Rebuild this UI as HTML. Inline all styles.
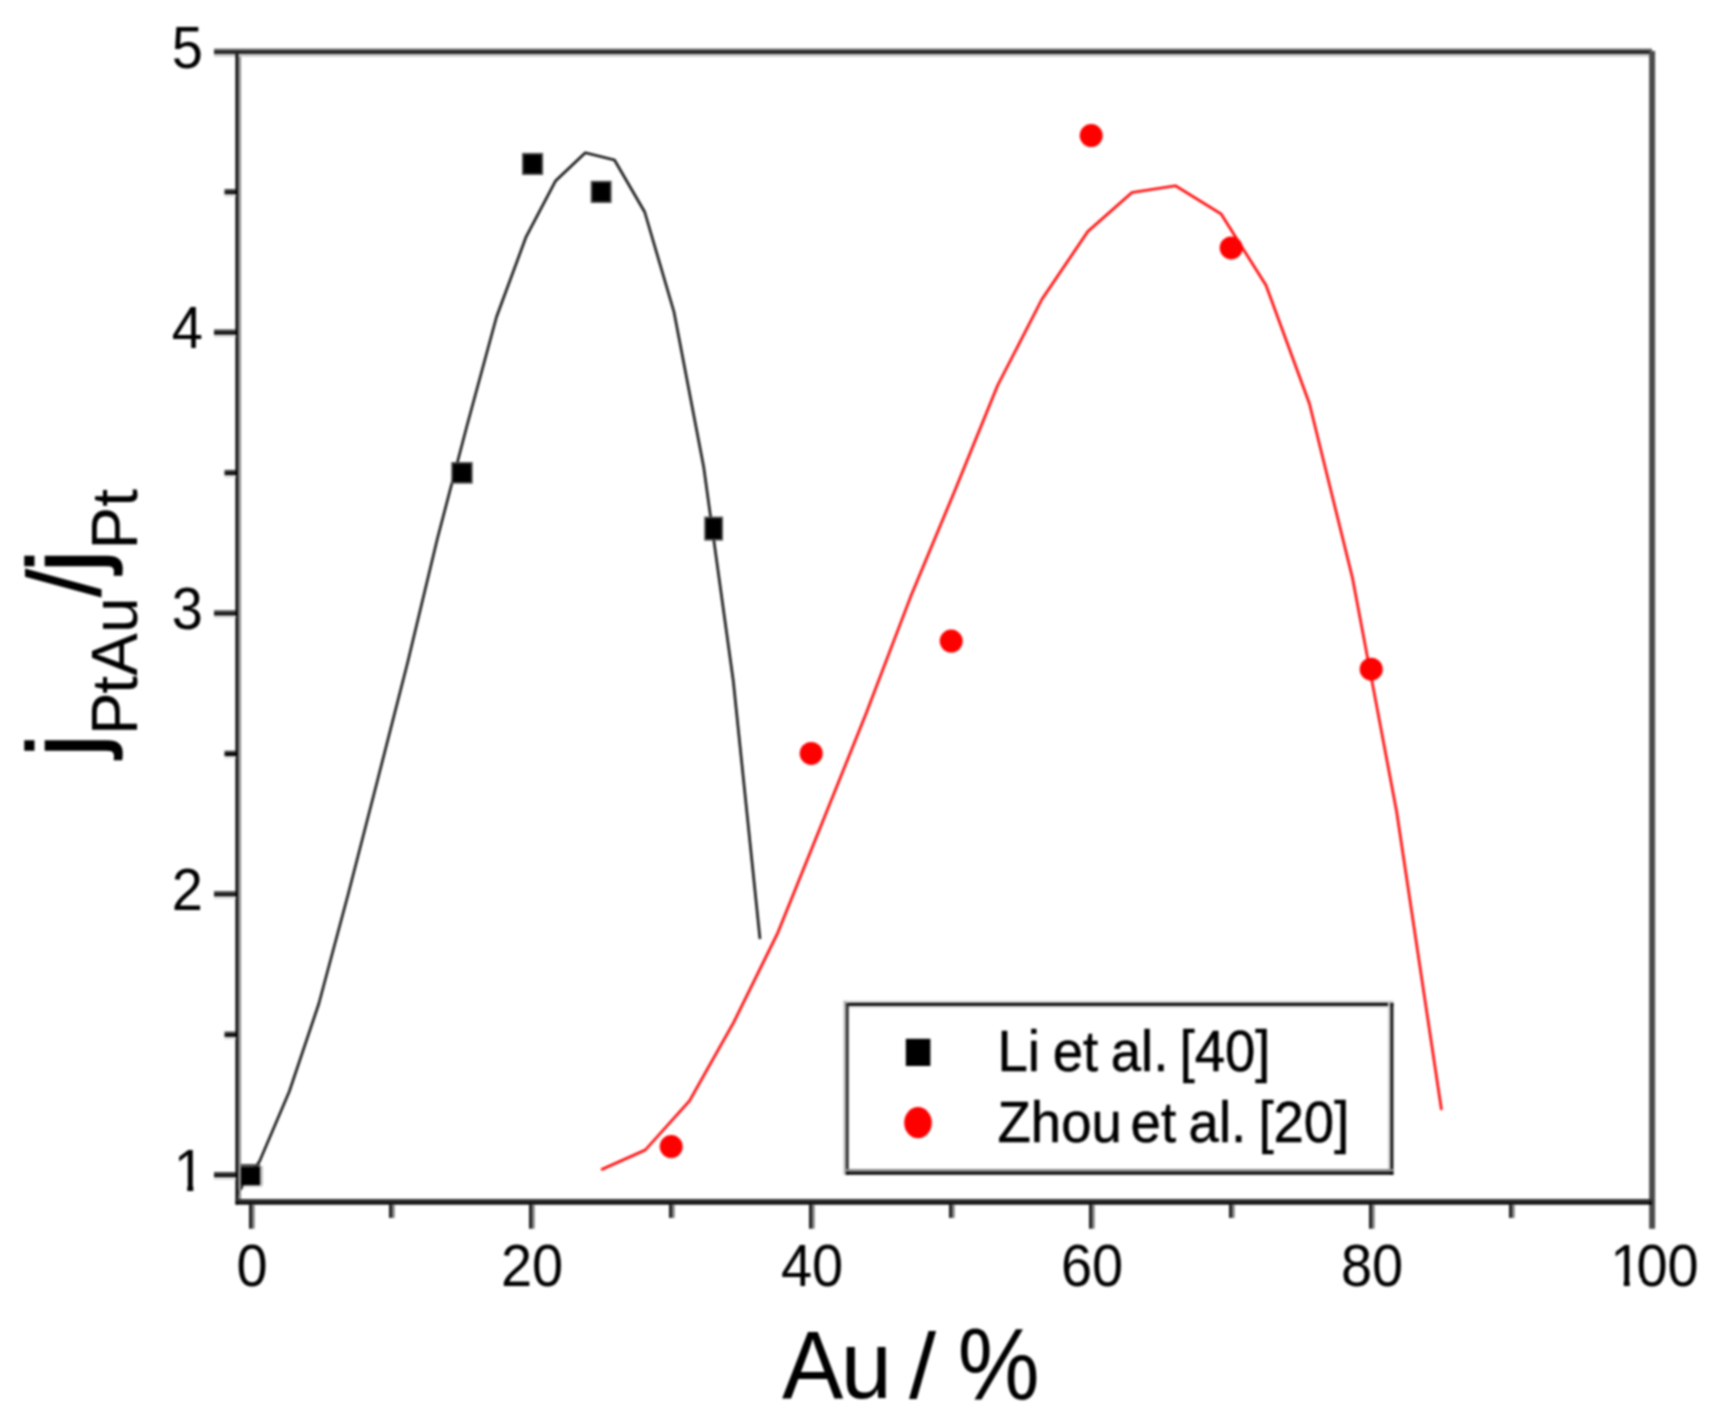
<!DOCTYPE html>
<html lang="en"><head><meta charset="utf-8"><title>jPtAu/jPt vs Au / %</title>
<style>html,body{margin:0;padding:0;background:#fff}body{width:1732px;height:1419px;overflow:hidden}svg{display:block;filter:blur(0.95px)}text{font-family:"Liberation Sans", Arial, Helvetica, sans-serif;fill:#000}</style></head><body>
<svg width="1732" height="1419" viewBox="0 0 1732 1419">
<rect x="0" y="0" width="1732" height="1419" fill="#fff"/>
<clipPath id="plot"><rect x="238" y="54" width="1412" height="1146"/></clipPath>
<g clip-path="url(#plot)">
<polyline fill="none" stroke="#161616" stroke-width="2.6" stroke-linejoin="round" points="236.0,1196.0 259.7,1161.0 289.3,1091.5 318.9,1003.5 348.5,893.0 378.1,778.0 407.7,662.2 437.3,539.0 466.9,426.0 496.5,317.0 526.1,236.8 555.7,180.7 585.3,152.8 614.5,160.0 644.7,212.0 674.0,312.0 703.7,467.0 733.3,681.0 760.0,939.0"/>
<polyline fill="none" stroke="#ff0606" stroke-width="2.6" stroke-linejoin="round" points="601.1,1169.7 645.3,1150.0 689.5,1100.8 733.7,1022.4 777.9,932.6 822.1,823.1 866.3,713.0 910.5,597.1 954.7,491.0 997.6,385.5 1041.8,299.5 1087.8,231.5 1132.0,192.5 1175.7,185.8 1221.0,213.8 1266.0,285.3 1309.4,403.5 1352.5,578.0 1396.7,812.0 1441.5,1110.0"/>
</g>
<rect x="451.20" y="462.00" width="21.50" height="21.70" fill="#505050"/>
<rect x="452.90" y="463.70" width="18.10" height="18.30" fill="#000"/>
<rect x="522.00" y="152.90" width="21.10" height="22.10" fill="#505050"/>
<rect x="523.70" y="154.60" width="17.70" height="18.70" fill="#000"/>
<rect x="590.70" y="180.80" width="20.90" height="22.20" fill="#505050"/>
<rect x="592.40" y="182.50" width="17.50" height="18.80" fill="#000"/>
<rect x="704.20" y="516.60" width="18.80" height="24.00" fill="#505050"/>
<rect x="705.90" y="518.30" width="15.40" height="20.60" fill="#000"/>
<rect x="240.90" y="1164.00" width="19.20" height="2.60" fill="#4a4a4a"/>
<rect x="240.90" y="1166.60" width="19.20" height="19.00" fill="#000"/>
<rect x="260.10" y="1166.00" width="2.60" height="19.60" fill="#b4b4b4"/>
<rect x="243.00" y="1185.60" width="19.00" height="2.00" fill="#e4e4e4"/>
<circle cx="671.2" cy="1146.6" r="11.5" fill="#ff0000"/>
<circle cx="811.2" cy="753.4" r="11.5" fill="#ff0000"/>
<circle cx="951.2" cy="641.1" r="11.5" fill="#ff0000"/>
<circle cx="1091.2" cy="135.6" r="11.5" fill="#ff0000"/>
<circle cx="1231.2" cy="247.9" r="11.5" fill="#ff0000"/>
<circle cx="1371.2" cy="669.2" r="11.5" fill="#ff0000"/>
<rect x="214.00" y="48.70" width="1438.00" height="2.50" fill="#5a5a5a"/>
<rect x="214.00" y="51.20" width="1438.00" height="2.60" fill="#000"/>
<rect x="214.00" y="53.80" width="1435.10" height="2.80" fill="#c6c6c6"/>
<rect x="235.50" y="53.80" width="2.80" height="1150.70" fill="#000"/>
<rect x="238.30" y="56.60" width="2.70" height="1142.40" fill="#888"/>
<rect x="1649.10" y="51.00" width="6.00" height="1177.80" fill="#4c4c4c"/>
<rect x="235.50" y="1199.00" width="1416.50" height="2.70" fill="#2e2e2e"/>
<rect x="235.50" y="1201.70" width="1416.50" height="2.90" fill="#000"/>
<rect x="214.00" y="1172.00" width="22.00" height="2.30" fill="#3c3c3c"/>
<rect x="214.00" y="1174.30" width="22.00" height="3.00" fill="#000"/>
<rect x="214.00" y="1177.30" width="22.00" height="2.60" fill="#dcdcdc"/>
<rect x="224.50" y="1031.58" width="11.50" height="2.30" fill="#3c3c3c"/>
<rect x="224.50" y="1033.88" width="11.50" height="3.00" fill="#000"/>
<rect x="224.50" y="1036.88" width="11.50" height="2.60" fill="#dcdcdc"/>
<rect x="214.00" y="891.15" width="22.00" height="2.30" fill="#3c3c3c"/>
<rect x="214.00" y="893.45" width="22.00" height="3.00" fill="#000"/>
<rect x="214.00" y="896.45" width="22.00" height="2.60" fill="#dcdcdc"/>
<rect x="224.50" y="750.72" width="11.50" height="2.30" fill="#3c3c3c"/>
<rect x="224.50" y="753.02" width="11.50" height="3.00" fill="#000"/>
<rect x="224.50" y="756.02" width="11.50" height="2.60" fill="#dcdcdc"/>
<rect x="214.00" y="610.30" width="22.00" height="2.30" fill="#3c3c3c"/>
<rect x="214.00" y="612.60" width="22.00" height="3.00" fill="#000"/>
<rect x="214.00" y="615.60" width="22.00" height="2.60" fill="#dcdcdc"/>
<rect x="224.50" y="469.88" width="11.50" height="2.30" fill="#3c3c3c"/>
<rect x="224.50" y="472.18" width="11.50" height="3.00" fill="#000"/>
<rect x="224.50" y="475.18" width="11.50" height="2.60" fill="#dcdcdc"/>
<rect x="214.00" y="329.45" width="22.00" height="2.30" fill="#3c3c3c"/>
<rect x="214.00" y="331.75" width="22.00" height="3.00" fill="#000"/>
<rect x="214.00" y="334.75" width="22.00" height="2.60" fill="#dcdcdc"/>
<rect x="224.50" y="189.02" width="11.50" height="2.30" fill="#3c3c3c"/>
<rect x="224.50" y="191.32" width="11.50" height="3.00" fill="#000"/>
<rect x="224.50" y="194.32" width="11.50" height="2.60" fill="#dcdcdc"/>
<rect x="249.10" y="1204.50" width="2.70" height="24.20" fill="#0a0a0a"/>
<rect x="251.80" y="1204.50" width="2.80" height="24.20" fill="#777"/>
<rect x="389.10" y="1204.50" width="2.70" height="13.40" fill="#0a0a0a"/>
<rect x="391.80" y="1204.50" width="2.80" height="13.40" fill="#777"/>
<rect x="529.10" y="1204.50" width="2.70" height="24.20" fill="#0a0a0a"/>
<rect x="531.80" y="1204.50" width="2.80" height="24.20" fill="#777"/>
<rect x="669.10" y="1204.50" width="2.70" height="13.40" fill="#0a0a0a"/>
<rect x="671.80" y="1204.50" width="2.80" height="13.40" fill="#777"/>
<rect x="809.10" y="1204.50" width="2.70" height="24.20" fill="#0a0a0a"/>
<rect x="811.80" y="1204.50" width="2.80" height="24.20" fill="#777"/>
<rect x="949.10" y="1204.50" width="2.70" height="13.40" fill="#0a0a0a"/>
<rect x="951.80" y="1204.50" width="2.80" height="13.40" fill="#777"/>
<rect x="1089.10" y="1204.50" width="2.70" height="24.20" fill="#0a0a0a"/>
<rect x="1091.80" y="1204.50" width="2.80" height="24.20" fill="#777"/>
<rect x="1229.10" y="1204.50" width="2.70" height="13.40" fill="#0a0a0a"/>
<rect x="1231.80" y="1204.50" width="2.80" height="13.40" fill="#777"/>
<rect x="1369.10" y="1204.50" width="2.70" height="24.20" fill="#0a0a0a"/>
<rect x="1371.80" y="1204.50" width="2.80" height="24.20" fill="#777"/>
<rect x="1509.10" y="1204.50" width="2.70" height="13.40" fill="#0a0a0a"/>
<rect x="1511.80" y="1204.50" width="2.80" height="13.40" fill="#777"/>
<text transform="translate(203.00,910.05) scale(1.0000,1.0450)" font-size="56" text-anchor="end">2</text>
<text transform="translate(203.00,629.20) scale(1.0000,1.0450)" font-size="56" text-anchor="end">3</text>
<text transform="translate(203.00,348.35) scale(1.0000,1.0450)" font-size="56" text-anchor="end">4</text>
<text transform="translate(203.00,67.50) scale(1.0000,1.0450)" font-size="56" text-anchor="end">5</text>
<clipPath id="c1"><rect x="170" y="1140.9" width="40" height="42.5"/><rect x="187.3" y="1183.3" width="6.0" height="11"/></clipPath>
<g clip-path="url(#c1)">
<text transform="translate(205.00,1190.90) scale(1.0000,1.0450)" font-size="56" text-anchor="end">1</text>
</g>
<text transform="translate(252.10,1285.60) scale(1.0000,1.0450)" font-size="56" text-anchor="middle">0</text>
<text transform="translate(532.10,1285.60) scale(1.0000,1.0450)" font-size="56" text-anchor="middle">20</text>
<text transform="translate(812.10,1285.60) scale(1.0000,1.0450)" font-size="56" text-anchor="middle">40</text>
<text transform="translate(1092.10,1285.60) scale(1.0000,1.0450)" font-size="56" text-anchor="middle">60</text>
<text transform="translate(1372.10,1285.60) scale(1.0000,1.0450)" font-size="56" text-anchor="middle">80</text>
<clipPath id="c2"><rect x="1600" y="1235.6" width="110" height="42.5"/><rect x="1623.8" y="1278.0" width="5.9" height="11"/><rect x="1641.5" y="1278.0" width="70" height="11"/></clipPath>
<g clip-path="url(#c2)">
<text transform="translate(0,1285.60) scale(1,1.0450)" font-size="56" x="1610.2 1636.4 1667.4">100</text>
</g>
<text transform="translate(0,1397.7) scale(1,1.055)" font-size="92" x="782 840.8">Au</text>
<text transform="translate(909.00,1397.70) scale(1.0600,1.0000)" font-size="92" text-anchor="start">/</text>
<text transform="translate(957.80,1398.80) scale(1.0000,1.1050)" font-size="92" text-anchor="start">%</text>
<text transform="rotate(-90)"><tspan font-size="104" x="-757.0" y="99.5" stroke="#000" stroke-width="1.5">j</tspan><tspan font-size="64" x="-735 -693.8 -675.8 -633" y="137.2">PtAu</tspan><tspan font-size="104" x="-597.5" y="99.5">/</tspan><tspan font-size="104" x="-572.6" y="99.5" stroke="#000" stroke-width="1.5">j</tspan><tspan font-size="64" x="-549.6 -506.7" y="137.2">Pt</tspan></text>
<rect x="843.60" y="1000.80" width="549.80" height="2.20" fill="#c8c8c8"/>
<rect x="843.60" y="1000.80" width="2.30" height="173.90" fill="#b4b4b4"/>
<rect x="845.90" y="1003.00" width="547.50" height="2.90" fill="#000"/>
<rect x="845.90" y="1005.90" width="544.60" height="2.30" fill="#e0e0e0"/>
<rect x="845.90" y="1003.00" width="2.80" height="171.70" fill="#2a2a2a"/>
<rect x="1388.00" y="1003.00" width="2.40" height="169.00" fill="#d0d0d0"/>
<rect x="1390.40" y="1003.00" width="3.00" height="171.70" fill="#111"/>
<rect x="845.90" y="1169.00" width="547.50" height="2.80" fill="#8c8c8c"/>
<rect x="845.90" y="1171.80" width="547.50" height="2.90" fill="#000"/>
<rect x="905.80" y="1038.80" width="24.60" height="27.20" fill="#000"/>
<ellipse cx="918" cy="1122.7" rx="13.8" ry="15.6" fill="#ff0000"/>
<text transform="translate(0,1071.40) scale(1,1.0400)" font-size="54.5" stroke="#000" stroke-width="0.5"><tspan x="997.4">Li</tspan> <tspan x="1052.8">et</tspan> <tspan x="1110.8">al.</tspan> <tspan x="1179.6">[40]</tspan></text>
<text transform="translate(0,1141.80) scale(1,1.0400)" font-size="54.5" stroke="#000" stroke-width="0.5"><tspan x="997.6">Zhou</tspan> <tspan x="1130.6">et</tspan> <tspan x="1188.6">al.</tspan> <tspan x="1258.4">[20]</tspan></text>
</svg></body></html>
